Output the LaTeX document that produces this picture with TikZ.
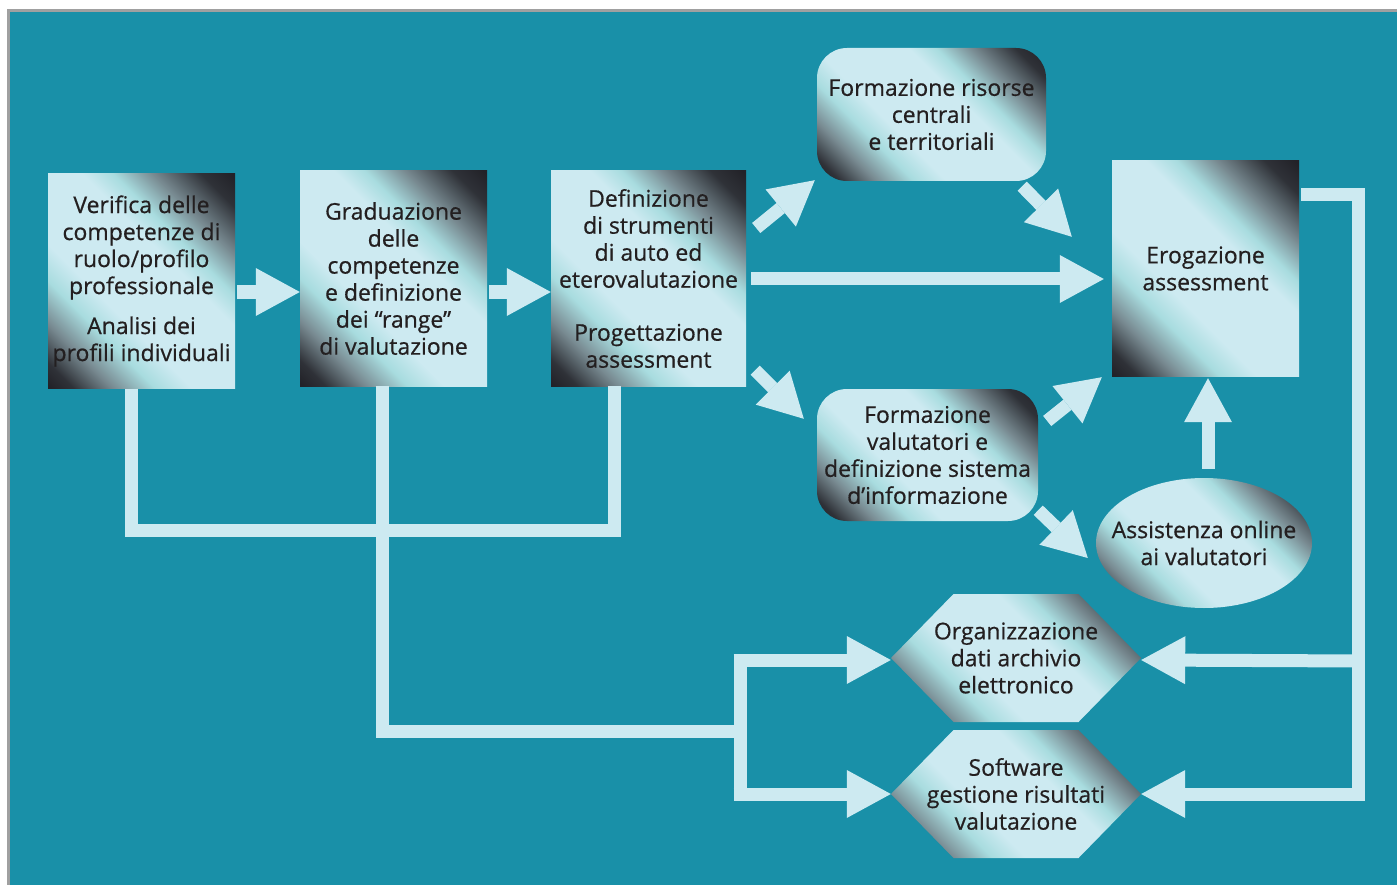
\documentclass[tikz,border=0pt]{standalone}
\usepackage{fontspec}
\setmainfont{Open Sans}[BoldFont=Open Sans, BoldFeatures={FakeBold=0.6}]
\usetikzlibrary{calc, positioning, arrows.meta, shapes.geometric}

\definecolor{bgteal}{RGB}{25,144,168}
\definecolor{palecyan}{RGB}{205,234,241}
\definecolor{midcyan}{RGB}{168,220,223}
\definecolor{steelgray}{RGB}{120,138,145}
\definecolor{inkdark}{RGB}{34,34,40}
\definecolor{inktext}{RGB}{35,31,32}
\definecolor{rimgray}{RGB}{160,160,160}

\pgfdeclarehorizontalshading{glass}{100bp}{color(0bp)=(inkdark); color(15bp)=(inkdark);
  color(19bp)=(inkdark!85!steelgray); color(26bp)=(steelgray); color(33.5bp)=(midcyan);
  color(40bp)=(palecyan); color(58.5bp)=(palecyan); color(64bp)=(midcyan);
  color(71bp)=(steelgray); color(79.5bp)=(inkdark!85!steelgray); color(85bp)=(inkdark);
  color(100bp)=(inkdark)}

\begin{document}
\begin{tikzpicture}[x=1pt, y=-1pt,
  every node/.style={font=\fontsize{23}{27}\selectfont\bfseries, text=inktext, align=center, inner sep=0pt},
  glassy/.style={shading=glass, shading angle=45},
  box/.style={glassy, rectangle, minimum width=187, minimum height=215},
  rbox/.style={glassy, rectangle, rounded corners=30},
  oval/.style={glassy, ellipse, inner xsep=-20pt, minimum width=216, minimum height=130},
  hexa/.style={rectangle, minimum width=250, minimum height=128,
    path picture={\shade[glassy] (path picture bounding box.west)
      -- ($(path picture bounding box.north west)!0.25!(path picture bounding box.north east)$)
      -- ($(path picture bounding box.north west)!0.75!(path picture bounding box.north east)$)
      -- (path picture bounding box.east)
      -- ($(path picture bounding box.south west)!0.75!(path picture bounding box.south east)$)
      -- ($(path picture bounding box.south west)!0.25!(path picture bounding box.south east)$)
      -- cycle;}},
  bar/.style={draw=palecyan, line width=13pt},
  bigarrow/.style={bar, -{Triangle[width=48pt, length=44pt, line width=0pt]}}]

\useasboundingbox (0,0) rectangle (1397,885);
\fill[white] (0,0) rectangle (1397,885);
\fill[rimgray] (7,9) rectangle (1397,885);
\fill[bgteal] (10,12) rectangle (1397,885);

% steps
\node[box] (ver) at (141.5,281) {Verifica delle\\competenze di\\ruolo/profilo\\professionale\\[13pt]Analisi dei\\profili individuali};
\node[box] (grad) at (393.5,278.5) {Graduazione\\delle\\competenze\\e definizione\\dei “range”\\di valutazione};
\node[box, minimum width=195] (def) at (648.5,278.5) {Definizione\\di strumenti\\di auto ed\\eterovalutazione\\[26pt]Progettazione\\assessment};
\node[box] (ero) at (1205.5,268.5) {Erogazione\\assessment};
\node[rbox, minimum width=229, minimum height=133] (ris) at (931.5,114.5) {Formazione risorse\\centrali\\e territoriali};
\node[rbox, minimum width=221, minimum height=132] (val) at (927.5,455) {Formazione\\valutatori e\\definizione sistema\\d’informazione};
\node[oval] (ass) at (1204,543) {Assistenza online\\ai valutatori};
\node[hexa] (org) at (1016,658) {Organizzazione\\dati archivio\\elettronico};
\node[hexa] (soft) at (1016,794) {Software\\gestione risultati\\valutazione};

% arrows between steps
\draw[bigarrow] ($(ver.east)+(2,11)$) -- ($(grad.west)+(0,13.5)$);
\draw[bigarrow] ($(grad.east)+(2,13.5)$) -- ($(def.west)+(0,13.5)$);
\draw[bigarrow] ($(def.east)+(5,0.5)$) -- ($(ero.west)+(-8,10.5)$);
\draw[bigarrow] ($(def.east)+(10,-50.5)$) -- ($(ris.south west)+(-2,-1)$);
\draw[bigarrow] ($(ris.south east)+(-24,5)$) -- ($(ero.north west)+(-40,76)$);
\draw[bigarrow] ($(def.south east)+(9,-16)$) -- ($(val.north west)+(-13,30)$);
\draw[bigarrow] ($(val.east)+(9,-34)$) -- ($(ero.south west)+(-10,1)$);
\draw[bigarrow] ($(val.south east)+(0,-11)$) -- ($(ass.west)+(-8,15)$);
\draw[bigarrow] ($(ass.north)+(4,-9)$) -- ($(ero.south)+(2.5,2)$);

% feedback lines
\coordinate (join) at (382,530);
\coordinate (fork) at (740,731);
\coordinate (back) at (1358,794);
\draw[bar] ($(ver.south)+(-10.5,0)$) |- (join) -| ($(def.south)+(-34.5,0)$);
\draw[bar] ($(grad.south)+(-11.5,0)$) |- (fork);
\draw[bar] (fork |- org.west) -- (fork |- soft.west);
\draw[bigarrow] ($(fork |- org.west)+(-6.5,2)$) -- ($(org.west)+(0,2)$);
\draw[bigarrow] ($(fork |- soft.west)+(-6.5,0)$) -- (soft.west);
\draw[bar] ($(ero.north east)+(2,34)$) -| (back);
\draw[bigarrow] ($(back |- org.east)+(6.5,3)$) -- ($(org.east)+(0,2)$);
\draw[bigarrow] ($(back)+(6.5,0)$) -- (soft.east);
\end{tikzpicture}
\end{document}
